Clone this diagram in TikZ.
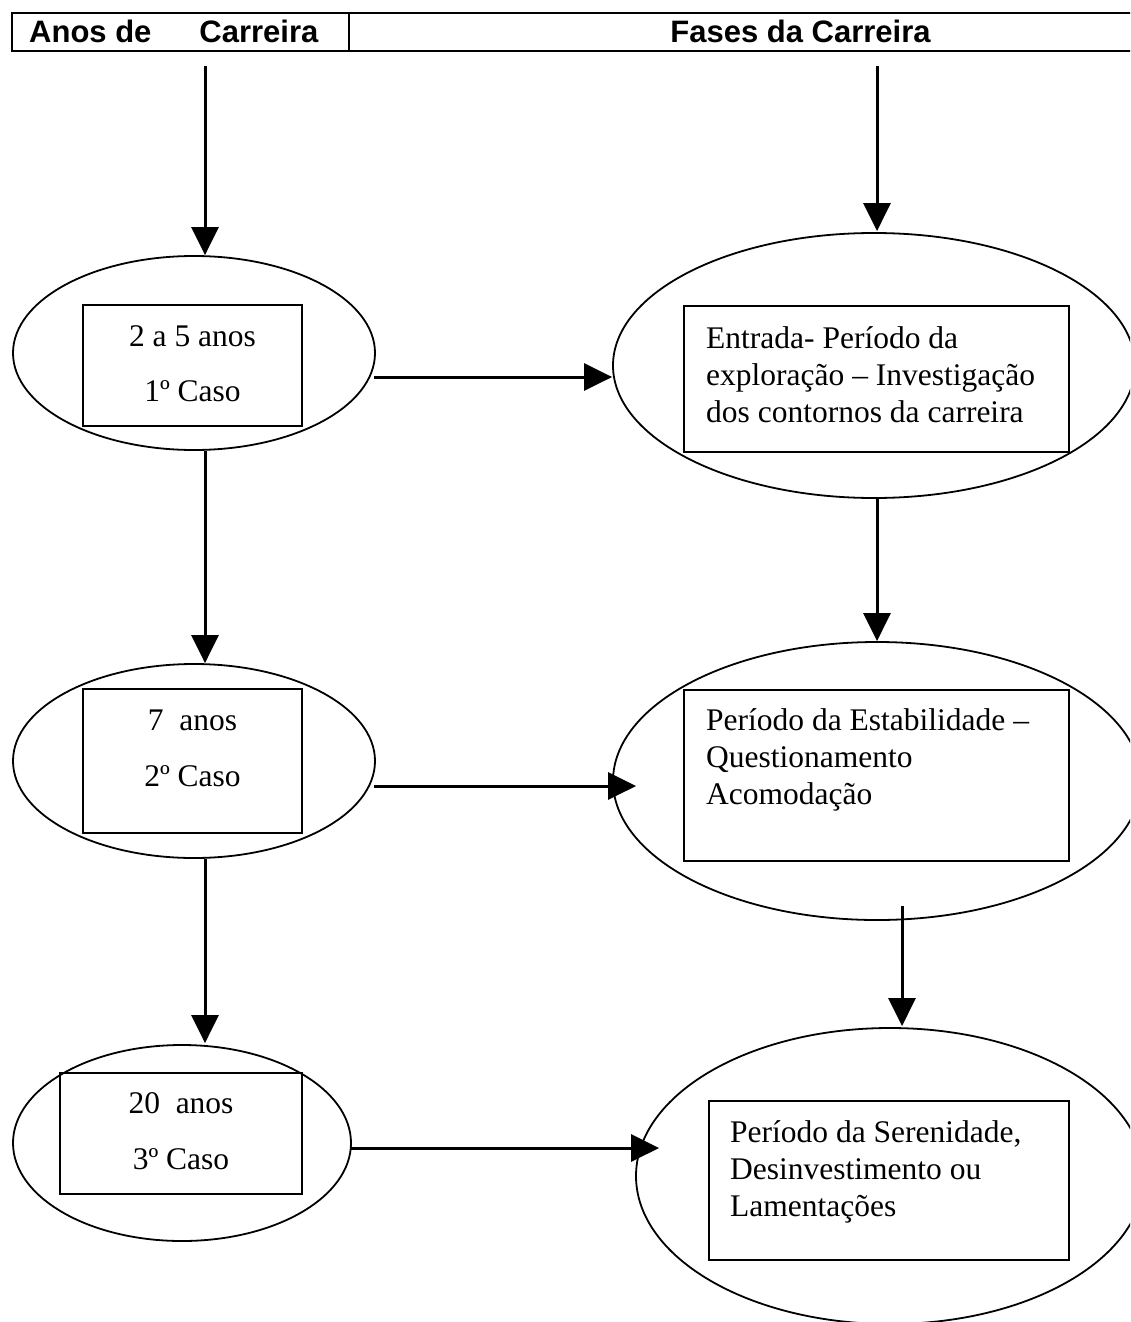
\documentclass[tikz,border=0pt]{standalone}
\usepackage{fontspec}
\setmainfont{Liberation Serif}
\newfontfamily\hdrfont{Liberation Sans}
\usetikzlibrary{shapes.geometric,arrows.meta}
\begin{document}
\begin{tikzpicture}[x=1pt,y=-1pt,
  ell/.style={draw, ellipse, line width=1.8pt, inner sep=0pt},
  bx/.style={draw, rectangle, line width=2.4pt, inner sep=0pt},
  hcell/.style={draw, rectangle, line width=2pt, inner sep=0pt},
  arr/.style={line width=3pt, -{Triangle[length=28pt,width=27pt]}},
  body/.style={font=\fontsize{31.5}{37}\selectfont, inner sep=0pt},
  hdr/.style={font=\hdrfont\bfseries\fontsize{31}{36}\selectfont, inner sep=0pt}]
\clip (0,0) rectangle (1130,1322);
\fill[white] (0,0) rectangle (1130,1322);

% header
\node[hcell, minimum width=337pt, minimum height=38pt] (hL) at (180.5,32) {};
\node[hcell, minimum width=800pt, minimum height=38pt] (hR) at (749,32) {};
\node[hdr, anchor=base west] (hLt) at (29,43) {Anos de\hspace{48pt}Carreira};
\node[hdr, anchor=base] (hRt) at (800.5,43) {Fases da Carreira};

% left ellipses and boxes
\node[ell, minimum width=362pt, minimum height=194pt] (e1) at (194,353) {};
\node[ell, minimum width=362pt, minimum height=194pt] (e2) at (194,761) {};
\node[ell, minimum width=338pt, minimum height=196pt] (e3) at (182,1143) {};
\node[bx, minimum width=219pt, minimum height=121pt] (b1) at (192.5,365.5) {};
\node[bx, minimum width=219pt, minimum height=144pt] (b2) at (192.5,761) {};
\node[bx, minimum width=242pt, minimum height=121pt] (b3) at (181,1133.5) {};
\node[body, anchor=base] (t1) at (192.5,346) {\parbox[t]{219pt}{\centering\baselineskip=55pt 2 a 5 anos\\1º Caso}};
\node[body, anchor=base] (t2) at (192.5,730) {\parbox[t]{219pt}{\centering\baselineskip=56pt 7\ \ anos\\2º Caso}};
\node[body, anchor=base] (t3) at (181,1113) {\parbox[t]{242pt}{\centering\baselineskip=56pt 20\ \ anos\\3º Caso}};

% right ellipses and boxes
\node[ell, minimum width=522pt, minimum height=265pt] (r1) at (874,365.5) {};
\node[ell, minimum width=528pt, minimum height=278pt] (r2) at (877,781) {};
\node[ell, minimum width=508pt, minimum height=296pt] (r3) at (890,1176) {};
\node[bx, minimum width=385pt, minimum height=146pt] (rb1) at (876.5,379) {};
\node[bx, minimum width=385pt, minimum height=171pt] (rb2) at (876.5,775.5) {};
\node[bx, minimum width=360pt, minimum height=159pt] (rb3) at (889,1180.5) {};
\node[body, anchor=base west] (rt1) at (706,348) {\parbox[t]{360pt}{\raggedright Entrada- Período da\\exploração – Investigação\\dos contornos da carreira}};
\node[body, anchor=base west] (rt2) at (706,730) {\parbox[t]{360pt}{\raggedright Período da Estabilidade –\\Questionamento\\Acomodação}};
\node[body, anchor=base west] (rt3) at (730,1142) {\parbox[t]{330pt}{\raggedright Período da Serenidade,\\Desinvestimento ou\\Lamentações}};

% connectors
\coordinate (sL) at (205,66);
\coordinate (sR) at (877,66);
\draw[arr] (sL) -- (sL |- e1.north);
\draw[arr] (sR) -- ([yshift=1pt]sR |- r1.north);
\draw[arr] ([xshift=11pt]e1.south) -- ([xshift=11pt]e2.north);
\draw[arr] ([xshift=11pt]e2.south) -- ([xshift=23pt,yshift=1pt]e3.north);
\draw[arr] ([xshift=3pt]r1.south) -- (r2.north);
\coordinate (s6) at (902,906);
\draw[arr] (s6) -- ([yshift=1pt]s6 |- r3.north);

\coordinate (h1) at (374,377);
\coordinate (h2) at (374,786);
\coordinate (h3) at (351,1148);
\draw[arr] (h1) -- (h1 -| r1.west);
\draw[arr] (h2) -- ([xshift=24pt]h2 -| r2.west);
\draw[arr] (h3) -- ([xshift=24pt]h3 -| r3.west);
\end{tikzpicture}
\end{document}
